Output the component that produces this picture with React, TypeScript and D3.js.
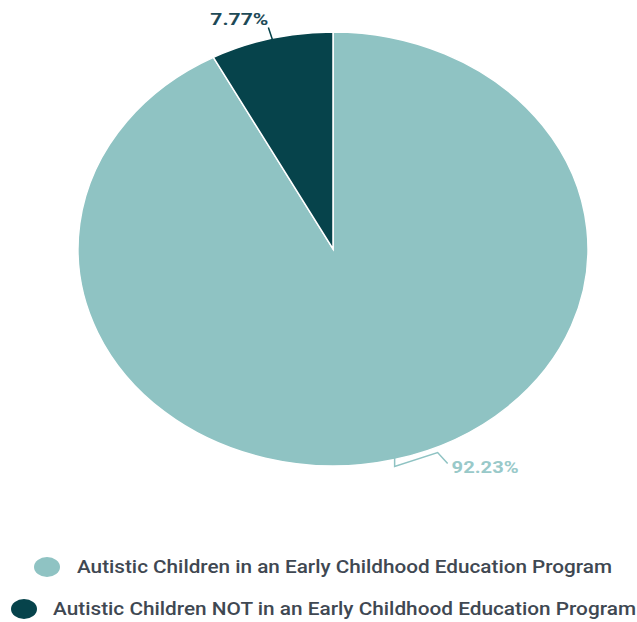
import React from "react";
import * as d3 from "d3";

const categories = [
  "Autistic Children in an Early Childhood Education Program",
  "Autistic Children NOT in an Early Childhood Education Program",
];
const values = [92.23, 7.77];
const colors = ["#8fc3c3", "#06434b"];
const labelColors = ["#99c9c9", "#1d4a57"];

const W = 637;
const H = 622;
const cx = 333;
const cy = 249;
const ry = 217;
const rx = 255;
const sx = rx / ry;

export default function App() {
  const pie = d3
    .pie<number>()
    .sort(null)
    .value((d) => d);
  const arcs = pie(values);
  const arc = d3.arc<d3.PieArcDatum<number>>().innerRadius(0).outerRadius(ry);
  const edge = d3.arc<d3.PieArcDatum<number>>().innerRadius(ry).outerRadius(ry);

  const mids = arcs.map((a) => {
    const [x, y] = edge.centroid(a);
    return [cx + x * sx, cy + y];
  });

  const m0 = mids[0];
  const m1 = mids[1];
  const line = d3.line();

  return (
    <svg
      width={W}
      height={H}
      style={{ position: "absolute", left: 0, top: 0, background: "#fff" }}
    >
      <g transform={`translate(${cx},${cy}) scale(${sx},1)`}>
        {arcs.map((a, i) => (
          <path
            key={i}
            d={arc(a) || ""}
            fill={colors[i]}
            stroke="#ffffff"
            strokeWidth={1.5}
            vectorEffect="non-scaling-stroke"
          />
        ))}
      </g>
      {/* leader lines */}
      <path
        d={
          line([
            [m0[0], m0[1] - 2],
            [m0[0], m0[1] + 7],
            [m0[0] + 43, m0[1] - 7],
            [m0[0] + 53, m0[1] + 4],
          ]) || ""
        }
        fill="none"
        stroke={colors[0]}
        strokeWidth={1.5}
      />
      <path
        d={
          line([
            [m1[0] + 1, m1[1] + 1],
            [m1[0] - 3, m1[1] - 11],
          ]) || ""
        }
        fill="none"
        stroke={colors[1]}
        strokeWidth={1.5}
      />
      <text
        x={m0[0] + 57}
        y={m0[1] + 13}
        fill={labelColors[0]}
        fontFamily="Roboto"
        fontWeight={700}
        fontSize={16}
        textLength={67}
        lengthAdjust="spacingAndGlyphs"
      >
        {values[0].toFixed(2)}%
      </text>
      <text
        x={m1[0] - 61}
        y={m1[1] - 13}
        fill={labelColors[1]}
        fontFamily="Roboto"
        fontWeight={700}
        fontSize={17}
        textLength={58}
        lengthAdjust="spacingAndGlyphs"
      >
        {values[1].toFixed(2)}%
      </text>
      {/* legend */}
      {categories.map((c, i) => {
        const y = i === 0 ? 573 : 615;
        const tx = i === 0 ? 77 : 53;
        const tl = i === 0 ? 535 : 583;
        const mx = i === 0 ? 47 : 24;
        return (
          <g key={i}>
            <ellipse cx={mx} cy={y - 6} rx={13} ry={10} fill={colors[i]} />
            <text
              x={tx}
              y={y}
              fill="#3f4852"
              fontFamily="Roboto"
              fontWeight={500}
              fontSize={17.5}
              textLength={tl}
              lengthAdjust="spacingAndGlyphs"
            >
              {c}
            </text>
          </g>
        );
      })}
    </svg>
  );
}
